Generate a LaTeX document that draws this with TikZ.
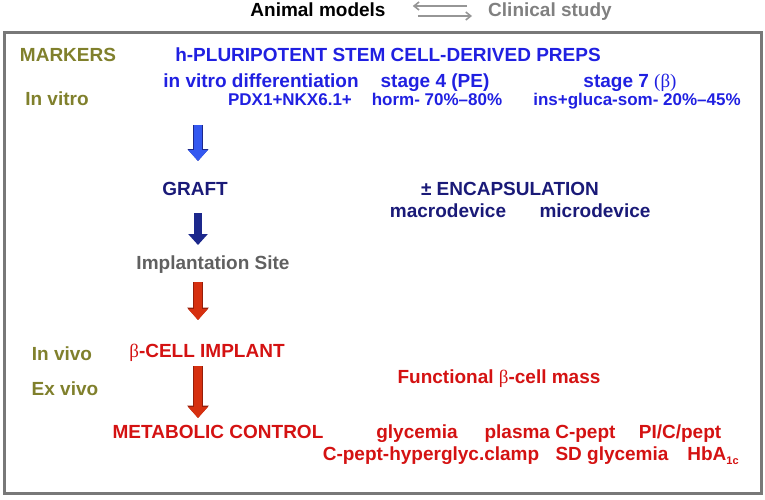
\documentclass[tikz,border=0pt]{standalone}
\usepackage{fontspec}
\setmainfont{Liberation Sans}
\newfontfamily\betafont{Liberation Serif}
\usepackage{tikz}
\usetikzlibrary{arrows.meta}
\definecolor{markolive}{RGB}{128,128,44}
\definecolor{prepblue}{RGB}{32,32,225}
\definecolor{graftnavy}{RGB}{26,26,120}
\definecolor{sitegray}{RGB}{96,96,96}
\definecolor{implred}{RGB}{212,18,18}
\definecolor{framegray}{RGB}{120,120,120}
\definecolor{togglegray}{RGB}{150,150,150}
\definecolor{arrowblue}{RGB}{52,88,240}
\definecolor{arrownavy}{RGB}{28,40,140}
\definecolor{arrowred}{RGB}{214,48,16}
\definecolor{edgered}{RGB}{150,30,10}
\newcommand{\bet}{{\betafont\mdseries β}}

\begin{document}
\begin{tikzpicture}[x=1pt, y=-1pt,
    txt/.style={inner sep=0pt, font=\fontsize{19}{22}\selectfont\bfseries,
        text height=14pt, text depth=4pt},
    small/.style={txt, font=\fontsize{17}{20}\selectfont\bfseries},
    marker/.style={txt, text=markolive},
    prep/.style={txt, text=prepblue},
    graft/.style={txt, text=graftnavy},
    site/.style={txt, text=sitegray},
    implant/.style={txt, text=implred},
    flow/.style={line width=8pt, -{Triangle[width=19pt,length=11pt]}},
    toggle/.style={draw=togglegray, line width=1.6pt, -{Straight Barb[length=5pt,width=8pt]}},
    frame/.style={draw=framegray, line width=3pt}
]
\useasboundingbox (0,0) rectangle (765,500);

% header
\node (Animal) [txt] at (318,12) {Animal models};
\node (Clinical) [txt, text=gray] at (550,12) {Clinical study};
\draw[toggle, shorten <=21pt, shorten >=27pt] ([yshift=6pt]Clinical.west) -- ([yshift=6pt]Animal.east);
\draw[toggle, shorten <=32pt, shorten >=16pt] ([yshift=-4pt]Animal.east) -- ([yshift=-4pt]Clinical.west);

\draw[frame] (4,33) rectangle (761,493);

% left column
\node (Markers) [marker] at (68,57) {MARKERS};
\node (InVitro) [marker] at (57,101) {In vitro};
\node (InVivo) [marker] at (62,355) {In vivo};
\node (ExVivo) [marker] at (65,390) {Ex vivo};

% preparations
\node (Preps) [prep] at (388,57) {h-PLURIPOTENT STEM CELL-DERIVED PREPS};
\node (Diff) [prep] at (261,83) {in vitro differentiation};
\node (Stage4) [prep] at (435,83) {stage 4 (PE)};
\node (Stage7) [prep] at (630,83) {stage 7 {\betafont\mdseries(β)}};
\node (Pdx) [prep, small] at (290,101) {PDX1+NKX6.1+};
\node (Horm) [prep, small] at (437,101) {horm- 70\%--80\%};
\node (Ins) [prep, small] at (637,101) {ins+gluca-som- 20\%--45\%};

% graft
\node (Graft) [graft] at (195,190) {GRAFT};
\node (Encaps) [graft] at (510,190) {± ENCAPSULATION};
\node (Macro) [graft] at (448,212) {macrodevice};
\node (Micro) [graft] at (595,212) {microdevice};

\node (Site) [site] at (213,264) {Implantation Site};

% in vivo
\node (Implant) [implant] at (207,352) {\bet-CELL IMPLANT};
\node (Mass) [implant] at (499,378) {Functional \bet-cell mass};
\node (Metabolic) [implant] at (218,433) {METABOLIC CONTROL};
\node (Glyc) [implant] at (417,433) {glycemia};
\node (CPept) [implant] at (550,433) {plasma C-pept};
\node (PiCPept) [implant] at (680,433) {PI/C/pept};
\node (Clamp) [implant] at (431,455) {C-pept-hyperglyc.clamp};
\node (SdGlyc) [implant] at (612,455) {SD glycemia};
\node (HbA) [implant] at (713,455) {HbA\raisebox{-4pt}{\fontsize{11}{11}\selectfont 1c}};

% flow arrows
\coordinate (Col) at (198,0);
\coordinate (Start01) at (198,125);
\draw[flow, draw=arrowblue, preaction={draw=arrownavy, line width=9.5pt, -{Triangle[width=20.5pt,length=12pt]}},
    shorten >=29pt] (Start01) -- (Col |- Graft);
\draw[flow, draw=arrownavy, shorten <=23pt, shorten >=19pt] (Col |- Graft) -- (Col |- Site);
\draw[flow, draw=arrowred, preaction={draw=edgered, line width=10pt, -{Triangle[width=21pt,length=12.5pt]}},
    shorten <=18pt, shorten >=32pt] (Col |- Site) -- (Col |- Implant);
\draw[flow, draw=arrowred, preaction={draw=edgered, line width=10pt, -{Triangle[width=21pt,length=12.5pt]}},
    shorten <=14pt, shorten >=15pt] (Col |- Implant) -- (Col |- Metabolic);

\end{tikzpicture}
\end{document}
